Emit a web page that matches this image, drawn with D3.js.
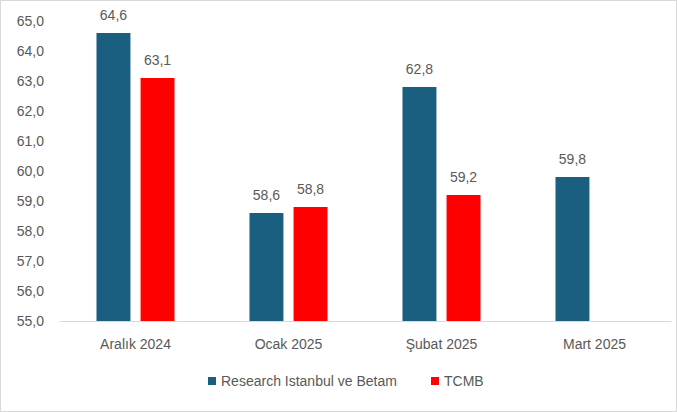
<!DOCTYPE html>
<html>
<head>
<meta charset="utf-8">
<script src="https://cdn.jsdelivr.net/npm/d3@7"></script>
<style>
  body { margin: 0; background: #fff; }
  text { font-family: "Liberation Sans", Arial, sans-serif; fill: #595959; }
</style>
</head>
<body>
<div id="chart"></div>
<script>
// Chart data
var months = ["Aralık 2024", "Ocak 2025", "Şubat 2025", "Mart 2025"];
var seriesNames = ["Research Istanbul ve Betam", "TCMB"];
var researchValues = [64.6, 58.6, 62.8, 59.8];
var tcmbValues = [63.1, 58.8, 59.2, null];
var yTicks = [55, 56, 57, 58, 59, 60, 61, 62, 63, 64, 65];
var colors = ["#1a5e80", "#ff0000"];

var svgWidth = 677;
var svgHeight = 412;

var margin = { top: 21, right: 8, bottom: 91, left: 62 };
var width = svgWidth - margin.left - margin.right;
var height = svgHeight - margin.top - margin.bottom;

var svg = d3.select("#chart")
  .append("svg")
  .attr("width", svgWidth)
  .attr("height", svgHeight);

// chart border
svg.append("rect")
  .attr("x", 0.5).attr("y", 0.5)
  .attr("width", svgWidth - 1).attr("height", svgHeight - 1)
  .attr("fill", "none")
  .attr("stroke", "#d9d9d9");

var chartGroup = svg.append("g")
  .attr("transform", `translate(${margin.left}, ${margin.top})`);

var rows = months.map(function(m, i) {
  return { month: m, values: [researchValues[i], tcmbValues[i]] };
});

// Scales
var x0 = d3.scaleBand()
  .domain(months)
  .range([-3, width + 2])
  .paddingInner(0.49)
  .paddingOuter(0.245);

var x1 = d3.scaleBand()
  .domain([0, 1])
  .range([0, x0.bandwidth()])
  .paddingInner(0.23);

var y = d3.scaleLinear()
  .domain([55, 65])
  .range([height, 0]);

// Y axis (labels only)
var leftAxis = d3.axisLeft(y)
  .tickValues(yTicks)
  .tickFormat(function(d) { return d3.format(".1f")(d).replace(".", ","); })
  .tickSize(0)
  .tickPadding(18);

var yAxis = chartGroup.append("g").call(leftAxis);
yAxis.select(".domain").remove();
yAxis.selectAll("text")
  .style("font-size", "14px")
  .style("font-family", "Liberation Sans, Arial, sans-serif")
  .attr("fill", "#595959");

// Bars
var groups = chartGroup.selectAll(".group")
  .data(rows)
  .enter()
  .append("g")
  .attr("transform", d => `translate(${x0(d.month)}, 0)`);

var cells = groups.selectAll("g")
  .data(d => d.values.map((v, i) => ({ v: v, i: i })).filter(e => e.v !== null))
  .enter()
  .append("g");

cells.append("rect")
  .attr("x", d => x1(d.i))
  .attr("y", d => y(d.v))
  .attr("width", x1.bandwidth())
  .attr("height", d => height - y(d.v))
  .attr("fill", d => colors[d.i]);

cells.append("text")
  .attr("x", d => x1(d.i) + x1.bandwidth() / 2)
  .attr("y", d => y(d.v) - 13)
  .attr("text-anchor", "middle")
  .style("font-size", "14px")
  .text(d => d3.format(".1f")(d.v).replace(".", ","));

// X axis
var bottomAxis = d3.axisBottom(x0).tickSize(0).tickPadding(18);
var xAxis = chartGroup.append("g")
  .attr("transform", `translate(0, ${height})`)
  .call(bottomAxis);
xAxis.select(".domain").attr("stroke", "#d9d9d9").attr("stroke-width", 1);
xAxis.selectAll("text")
  .style("font-size", "14px")
  .style("font-family", "Liberation Sans, Arial, sans-serif")
  .attr("fill", "#595959");

// Legend
var legendItems = [
  { name: seriesNames[0], color: colors[0], x: 208 },
  { name: seriesNames[1], color: colors[1], x: 431 }
];
var legend = svg.append("g");
legendItems.forEach(function(item) {
  legend.append("rect")
    .attr("x", item.x).attr("y", 377)
    .attr("width", 8).attr("height", 8)
    .attr("fill", item.color);
  legend.append("text")
    .attr("x", item.x + 13).attr("y", 386)
    .style("font-size", "14px")
    .text(item.name);
});
</script>
</body>
</html>
